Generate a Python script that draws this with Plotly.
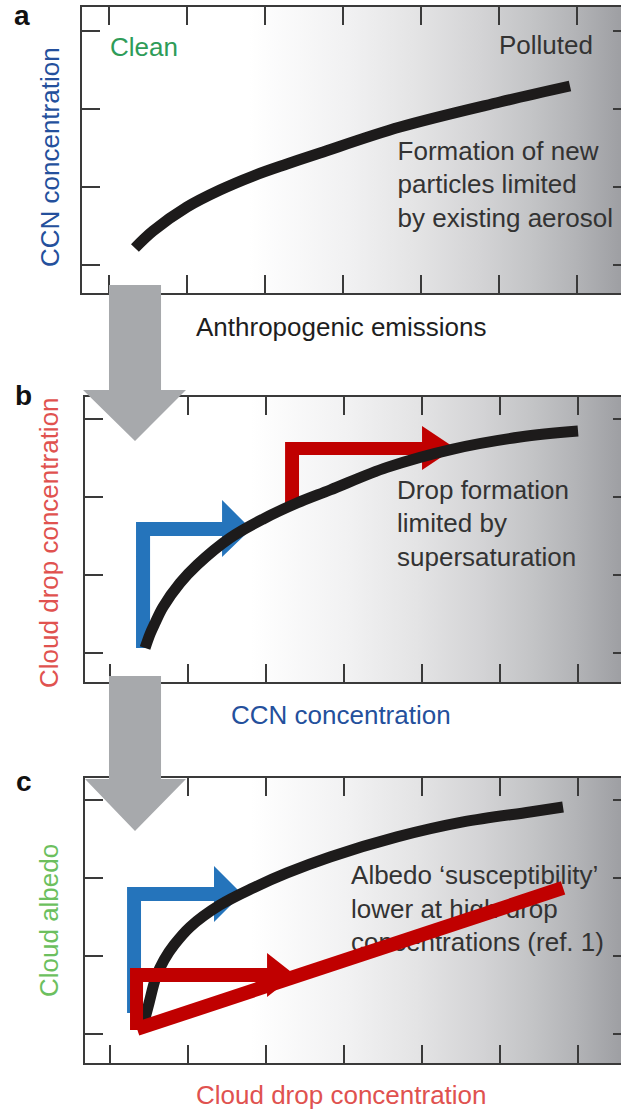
import plotly.graph_objects as go

# ---------------- data (axis units: tick k sits at value k) ----------------
tick_x = [1, 2, 3, 4, 5, 6, 7]
tick_y = [1, 2, 3, 4]

# a: CCN concentration vs anthropogenic emissions
curve_a_x = [1.333, 1.564, 2.0, 2.423, 2.846, 3.282, 3.705, 4.731, 6.013, 6.910]
curve_a_y = [1.218, 1.436, 1.744, 1.962, 2.141, 2.295, 2.436, 2.769, 3.090, 3.295]

# b: cloud drop concentration vs CCN concentration
curve_b_x = [1.449, 1.513, 1.577, 1.679, 1.897, 2.115, 2.538, 2.962, 3.397, 3.821, 4.551, 5.397, 6.256, 7.000]
curve_b_y = [1.064, 1.244, 1.385, 1.590, 1.897, 2.128, 2.474, 2.718, 2.923, 3.090, 3.380, 3.615, 3.769, 3.846]

# c: cloud albedo vs cloud drop concentration
curve_c_x = [1.436, 1.500, 1.590, 1.692, 1.821, 2.026, 2.410, 2.833, 3.269, 3.821, 4.679, 5.526, 6.385, 6.808]
curve_c_y = [1.154, 1.397, 1.731, 1.949, 2.141, 2.372, 2.654, 2.872, 3.064, 3.269, 3.526, 3.718, 3.846, 3.910]

# linear susceptibility line in c
susc_x = [1.346, 6.808]
susc_y = [1.064, 2.872]

# bent step arrows (outline vertices)
blue_b_x = [1.333, 1.333, 2.436, 2.436, 2.808, 2.436, 2.436, 1.513, 1.513]
blue_b_y = [1.064, 2.679, 2.679, 2.962, 2.590, 2.231, 2.500, 2.500, 1.064]
red_b_x = [3.244, 3.244, 5.000, 5.000, 5.423, 5.000, 5.000, 3.423, 3.423]
red_b_y = [2.923, 3.705, 3.705, 3.910, 3.628, 3.346, 3.538, 3.538, 2.923]
blue_c_x = [1.218, 1.218, 2.333, 2.333, 2.692, 2.333, 2.333, 1.397, 1.397]
blue_c_y = [1.269, 2.885, 2.885, 3.154, 2.795, 2.436, 2.705, 2.705, 1.269]
red_c_x = [1.256, 1.256, 3.013, 3.013, 3.372, 3.013, 3.013, 1.423, 1.423]
red_c_y = [1.051, 1.846, 1.846, 2.038, 1.756, 1.474, 1.667, 1.667, 1.051]

# grey flow arrows between panels (paper coordinates)
flow_arrow_1 = [(0.1755, 0.7430), (0.2593, 0.7430), (0.2593, 0.6483), (0.2995, 0.6483),
                (0.2174, 0.6023), (0.1337, 0.6483), (0.1755, 0.6483)]
flow_arrow_2 = [(0.1755, 0.3904), (0.2593, 0.3904), (0.2593, 0.2976), (0.2995, 0.2976),
                (0.2174, 0.2507), (0.1369, 0.2976), (0.1755, 0.2976)]

# ---------------- style ----------------
FONT = "Liberation Sans, Arial, Helvetica, sans-serif"
AX = "#3a3a3a"
CURVE = "#1d1b1b"
BLUE = "#2574bb"
RED = "#c00000"
GREY_ARROW = "#a7a9ac"
TXT = "#333333"
GRAD = [[0.0, "#ffffff"], [0.31, "#ffffff"], [0.495, "#f1f1f2"], [0.618, "#e4e4e5"],
        [0.742, "#d3d3d5"], [0.835, "#c3c4c6"], [0.915, "#b3b4b7"], [1.0, "#9e9fa3"]]

panels = [
    # x-axis, y-axis, x-domain, y-domain, x-range, y-range
    ("x", "y", [0.1320, 1.0], [0.7358, 0.9937], [0.654, 7.564], [0.641, 4.308]),
    ("x2", "y2", [0.1369, 1.0], [0.3850, 0.6420], [0.679, 7.551], [0.628, 4.282]),
    ("x3", "y3", [0.1369, 1.0], [0.0415, 0.2985], [0.679, 7.551], [0.628, 4.282]),
]

fig = go.Figure()

# gradient backgrounds
for xa, ya, xd, yd, xr, yr in panels:
    fig.add_trace(go.Scatter(
        x=[xr[0], xr[1], xr[1], xr[0], xr[0]], y=[yr[0], yr[0], yr[1], yr[1], yr[0]],
        mode="lines", line=dict(width=0), fill="toself",
        fillgradient=dict(type="horizontal", colorscale=GRAD, start=xr[0], stop=xr[1]),
        hoverinfo="skip", xaxis=xa, yaxis=ya))


def poly(xs, ys, color, xa, ya):
    fig.add_trace(go.Scatter(x=xs, y=ys, mode="lines", line=dict(width=0, color=color),
                             fill="toself", fillcolor=color, hoverinfo="skip",
                             xaxis=xa, yaxis=ya))


def curve(xs, ys, xa, ya):
    fig.add_trace(go.Scatter(x=xs, y=ys, mode="lines",
                             line=dict(color=CURVE, width=11, shape="spline", smoothing=1.0),
                             hoverinfo="skip", xaxis=xa, yaxis=ya))


def note(x, y, text, xa, ya):
    fig.add_trace(go.Scatter(x=[x], y=[y], mode="text", text=[text],
                             textposition="middle right",
                             textfont=dict(family=FONT, size=26, color=TXT),
                             hoverinfo="skip", xaxis=xa, yaxis=ya))


# panel a
curve(curve_a_x, curve_a_y, "x", "y")
note(4.70, 2.000, "Formation of new<br>particles limited<br>by existing aerosol", "x", "y")

# panel b
poly(blue_b_x, blue_b_y, BLUE, "x2", "y2")
poly(red_b_x, red_b_y, RED, "x2", "y2")
curve(curve_b_x, curve_b_y, "x2", "y2")
note(4.68, 2.630, "Drop formation<br>limited by<br>supersaturation", "x2", "y2")

# panel c
poly(blue_c_x, blue_c_y, BLUE, "x3", "y3")
curve(curve_c_x, curve_c_y, "x3", "y3")
note(4.09, 2.575, "Albedo \u2018susceptibility\u2019<br>lower at high drop<br>concentrations (ref. 1)", "x3", "y3")
poly(red_c_x, red_c_y, RED, "x3", "y3")
fig.add_trace(go.Scatter(x=susc_x, y=susc_y, mode="lines", line=dict(color=RED, width=14),
                         hoverinfo="skip", xaxis="x3", yaxis="y3"))

# anchors for the right-hand tick axes
for xa, ya in (("x", "y4"), ("x2", "y5"), ("x3", "y6")):
    fig.add_trace(go.Scatter(x=[None], y=[None], mode="lines", hoverinfo="skip",
                             xaxis=xa, yaxis=ya))

axis_base = dict(showgrid=False, zeroline=False, showticklabels=False, ticks="inside",
                 ticklen=18, tickwidth=2, tickcolor=AX, showline=True, linewidth=2,
                 linecolor=AX, fixedrange=True)

layout = dict(width=621, height=1109, margin=dict(l=0, r=0, t=0, b=0),
              paper_bgcolor="white", plot_bgcolor="white", showlegend=False)

for i, (xa, ya, xd, yd, xr, yr) in enumerate(panels):
    xk = "xaxis" if xa == "x" else "xaxis" + xa[1:]
    yk = "yaxis" if ya == "y" else "yaxis" + ya[1:]
    layout[xk] = dict(axis_base, domain=xd, range=xr, tickvals=tick_x, mirror="ticks", anchor=ya)
    layout[yk] = dict(axis_base, domain=yd, range=yr, tickvals=tick_y, anchor=xa)
    layout["yaxis" + str(4 + i)] = dict(
        overlaying=ya, side="right", anchor=xa, range=yr, tickvals=tick_y,
        ticks="inside", ticklen=8, tickwidth=2, tickcolor=AX, showline=False,
        showticklabels=False, showgrid=False, zeroline=False, fixedrange=True)

fig.update_layout(**layout)


def ann(text, x, y, color, size=26, angle=0, bold=False, xanchor="center", xref="paper", yref="paper"):
    fig.add_annotation(text=("<b>%s</b>" % text) if bold else text, x=x, y=y,
                       xref=xref, yref=yref, showarrow=False, textangle=angle,
                       xanchor=xanchor, yanchor="middle",
                       font=dict(family=FONT, size=size, color=color))


# panel letters
ann("a", 0.0354, 0.9856, "#111111", size=28, bold=True)
ann("b", 0.0386, 0.6438, "#111111", size=28, bold=True)
ann("c", 0.0386, 0.2949, "#111111", size=28, bold=True)

# panel a labels
ann("Clean", 0.987, 3.795, "#2e9c58", xanchor="left", xref="x", yref="y")
ann("Polluted", 7.231, 3.821, TXT, xanchor="right", xref="x", yref="y")
ann("CCN concentration", 0.0805, 0.8584, "#24509c", angle=-90)
ann("Anthropogenic emissions", 0.5507, 0.7051, "#1e1e1e")

# panel b labels
ann("Cloud drop concentration", 0.0789, 0.5113, "#e0524f", angle=-90)
ann("CCN concentration", 0.5499, 0.3553, "#24509c")

# panel c labels
ann("Cloud albedo", 0.0789, 0.1704, "#6cbf5e", angle=-90)
ann("Cloud drop concentration", 0.5499, 0.0126, "#e0524f")

# grey flow arrows drawn above the frames
for pts in (flow_arrow_1, flow_arrow_2):
    path = "M " + " L ".join("%g,%g" % p for p in pts) + " Z"
    fig.add_shape(type="path", path=path, xref="paper", yref="paper",
                  fillcolor=GREY_ARROW, line=dict(width=0), layer="above")

fig.write_html("out.html")
